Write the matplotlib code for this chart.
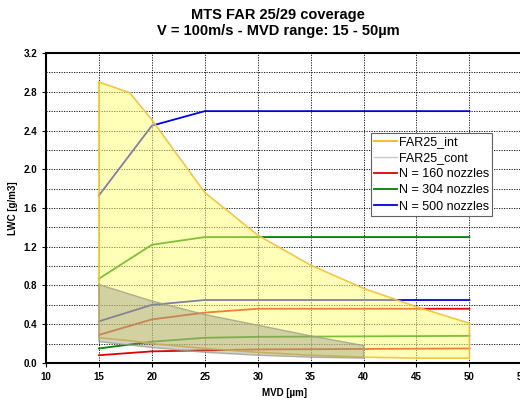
import numpy as np
import matplotlib.pyplot as plt
from matplotlib.ticker import MultipleLocator

plt.rcParams['font.family'] = ['Liberation Sans', 'DejaVu Sans']

# FAR25 intermittent envelope
int_mvd = [15, 17.9, 20, 25, 30, 35, 40, 45, 50]
int_upper = [2.90, 2.79, 2.51, 1.76, 1.32, 1.01, 0.77, 0.58, 0.41]
int_lower = [0.26, 0.23, 0.20, 0.15, 0.11, 0.08, 0.06, 0.05, 0.05]

# FAR25 continuous envelope
cont_mvd = [15, 20, 25, 30, 35, 40]
cont_upper = [0.81, 0.64, 0.50, 0.39, 0.28, 0.18]
cont_lower = [0.22, 0.16, 0.11, 0.08, 0.06, 0.05]

# nozzle configurations (max / min)
noz_mvd = [15, 20, 25, 30, 50]
n160_max = [0.29, 0.45, 0.52, 0.56, 0.56]
n160_min = [0.08, 0.12, 0.13, 0.14, 0.15]
n304_max = [0.87, 1.22, 1.30, 1.30, 1.30]
n304_min = [0.15, 0.22, 0.26, 0.27, 0.28]
n500_max = [1.73, 2.45, 2.60, 2.60, 2.60]
n500_min = [0.43, 0.60, 0.65, 0.65, 0.65]

fig = plt.figure(figsize=(5.2, 4.01), dpi=100)
ax = fig.add_axes([0.0885, 0.0948, 0.916, 0.773])

ax.plot(noz_mvd, n160_max, color='#e00000', lw=1.3, label='N = 160 nozzles')
ax.plot(noz_mvd, n160_min, color='#e00000', lw=1.3)
ax.plot(noz_mvd, n304_max, color='#008000', lw=1.3, label='N = 304 nozzles')
ax.plot(noz_mvd, n304_min, color='#008000', lw=1.3)
ax.plot(noz_mvd, n500_max, color='#0000e0', lw=1.3, label='N = 500 nozzles')
ax.plot(noz_mvd, n500_min, color='#0000e0', lw=1.3)

# envelopes drawn over the lines, semi transparent
ax.fill_between(int_mvd, int_lower, int_upper, color='#ffff70', alpha=0.5,
                edgecolor='none', zorder=3)
ax.plot(int_mvd + int_mvd[::-1][:1] + int_mvd[::-1] + [int_mvd[0]],
        int_upper + [int_lower[-1]] + int_lower[::-1] + [int_upper[0]],
        color='#f2c22e', lw=1.2, zorder=4, alpha=0.9)
ax.fill_between(cont_mvd, cont_lower, cont_upper, color='#8c8c80', alpha=0.4,
                edgecolor='none', zorder=5)
ax.plot(cont_mvd + cont_mvd[::-1][:1] + cont_mvd[::-1] + [cont_mvd[0]],
        cont_upper + [cont_lower[-1]] + cont_lower[::-1] + [cont_upper[0]],
        color='#a0a090', lw=1.0, zorder=6, alpha=0.8)

# legend proxies
h_int, = ax.plot([], [], color='#f2c22e', lw=1.5, label='FAR25_int')
h_cont, = ax.plot([], [], color='#c8c8c8', lw=1.0, label='FAR25_cont')
handles, labels = ax.get_legend_handles_labels()
order = ['FAR25_int', 'FAR25_cont', 'N = 160 nozzles', 'N = 304 nozzles', 'N = 500 nozzles']
hl = dict(zip(labels, handles))
leg = ax.legend([hl[k] for k in order], order, loc='upper left',
                bbox_to_anchor=(0.683, 0.742), fontsize=9, frameon=True,
                fancybox=False, framealpha=1, edgecolor='#606060',
                handlelength=1.8, handletextpad=0.15, borderpad=0.25,
                labelspacing=0.33, borderaxespad=0)
leg.get_frame().set_linewidth(0.8)
leg.set_zorder(10)

ax.set_xlim(10, 55)
ax.set_ylim(0, 3.2)
ax.xaxis.set_major_locator(MultipleLocator(5))
ax.yaxis.set_major_locator(MultipleLocator(0.4))
ax.yaxis.set_minor_locator(MultipleLocator(0.2))
ax.grid(True, which='both', axis='y', color='black', ls=(0, (1.5, 1.5)), lw=0.6)
ax.grid(True, which='major', axis='x', color='black', ls=(0, (1.5, 1.5)), lw=0.6)
ax.set_axisbelow(True)
ax.tick_params(which='minor', length=0)
ax.tick_params(which='major', labelsize=7, length=3, width=0.8)
for lab in ax.get_xticklabels() + ax.get_yticklabels():
    lab.set_fontweight('bold')
ax.yaxis.set_major_formatter(plt.FuncFormatter(lambda v, p: f'{v:.1f}'))

for s in ['left', 'bottom', 'top']:
    ax.spines[s].set_linewidth(1.5)

ax.set_xlabel('MVD [µm]', fontsize=7, fontweight='bold')
ax.set_ylabel('LWC [g/m3]', fontsize=7, fontweight='bold')
ax.set_title('MTS FAR 25/29 coverage\nV = 100m/s - MVD range: 15 - 50µm',
             fontsize=10.5, fontweight='bold', pad=13, x=0.487)

fig.savefig('out.png', dpi=100)
